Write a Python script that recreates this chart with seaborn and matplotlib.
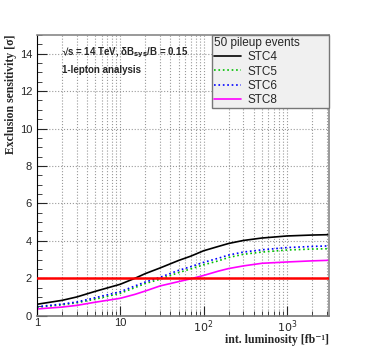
import numpy as np
import pandas as pd
import matplotlib
matplotlib.use("Agg")
import matplotlib.pyplot as plt
from matplotlib.ticker import FixedLocator, LogLocator, NullFormatter, MultipleLocator
import seaborn as sns

# data
lumi = [1, 2, 3, 5, 10, 15, 20, 30, 50, 70, 100, 150, 200, 300, 500, 1000, 2000, 3200]
stc4 = [0.61, 0.82, 1.00, 1.30, 1.68, 2.00, 2.25, 2.55, 2.95, 3.18, 3.47, 3.70, 3.86, 4.02, 4.15, 4.26, 4.31, 4.33]
stc5 = [0.45, 0.58, 0.69, 0.88, 1.20, 1.50, 1.72, 1.95, 2.30, 2.50, 2.72, 2.93, 3.11, 3.28, 3.40, 3.51, 3.56, 3.58]
stc6 = [0.48, 0.62, 0.73, 0.96, 1.28, 1.59, 1.80, 2.05, 2.42, 2.62, 2.85, 3.07, 3.24, 3.40, 3.52, 3.64, 3.70, 3.73]
stc8 = [0.36, 0.46, 0.55, 0.72, 0.93, 1.14, 1.32, 1.59, 1.82, 1.97, 2.15, 2.38, 2.52, 2.66, 2.80, 2.87, 2.93, 2.96]
limit = 2.0

series_names = ["STC4", "STC5", "STC6", "STC8"]
series_vals = [stc4, stc5, stc6, stc8]
colors = ["black", "#00c000", "#0000ff", "#ff00ff"]
styles = ["-", ":", ":", "-"]

sns.set_style("ticks")
plt.rcParams["font.family"] = ["Liberation Sans", "DejaVu Sans"]

fig = plt.figure(figsize=(3.66, 3.51), dpi=100)
ax = fig.add_axes([0.101, 0.1006, 0.798, 0.7997])

for name, vals, c, ls in zip(series_names, series_vals, colors, styles):
    df = pd.DataFrame({"lumi": lumi, "sens": vals})
    sns.lineplot(data=df, x="lumi", y="sens", color=c, linestyle=ls,
                 linewidth=1.2, label=name, ax=ax)

ax.axhline(limit, color="red", linewidth=1.8, zorder=5)

ax.set_xscale("log")
ax.set_xlim(1, 3200)
ax.set_ylim(0, 15)

ax.xaxis.set_major_locator(FixedLocator([1, 10, 100, 1000]))
ax.set_xticklabels(["1", "10", r"$10^{2}$", r"$10^{3}$"])
ax.xaxis.set_minor_locator(LogLocator(base=10, subs=np.arange(2, 10)))
ax.xaxis.set_minor_formatter(NullFormatter())
ax.yaxis.set_major_locator(MultipleLocator(2))
ax.yaxis.set_minor_locator(MultipleLocator(0.5))

ax.grid(which="major", axis="both", color="#999999", linestyle=":", linewidth=0.8)
ax.grid(which="minor", axis="x", color="#999999", linestyle=":", linewidth=0.8)

ax.tick_params(which="both", direction="in", labelsize=8)
ax.tick_params(which="major", length=7)
ax.tick_params(which="minor", length=3.5)
ax.tick_params(axis="x", pad=2)

for s in ["top", "right"]:
    ax.spines[s].set_color("#888888")
    ax.spines[s].set_linewidth(1.2)
ax.spines["left"].set_color("black")
ax.spines["bottom"].set_color("#777777")
ax.spines["bottom"].set_linewidth(1.2)

ax.set_ylabel("Exclusion sensitivity [σ]", fontsize=8.5, fontweight="bold",
              family=["Liberation Serif", "DejaVu Serif"], loc="top")
ax.set_xlabel("int. luminosity [fb⁻¹]", fontsize=8.5, fontweight="bold",
              family=["Liberation Serif", "DejaVu Serif"], loc="right")
ax.yaxis.set_label_coords(-0.068, 1.0)
ax.xaxis.set_label_coords(1.0, -0.066)

ax.text(0.085, 0.935, r"√s = 14 TeV, δB$_{\mathbf{sys}}$/B = 0.15", transform=ax.transAxes,
        fontsize=7, fontweight="bold", ha="left", va="center")
ax.text(0.085, 0.875, "1-lepton analysis", transform=ax.transAxes,
        fontsize=7, fontweight="bold", ha="left", va="center")

leg = ax.legend(title="50 pileup events", loc="upper left",
                bbox_to_anchor=(0.599, 0.74, 0.401, 0.26), mode="expand",
                fontsize=8.5, title_fontsize=8.5, frameon=True, fancybox=False,
                borderpad=0.2, handlelength=2.3, handletextpad=0.5, labelspacing=0.18,
                borderaxespad=0.0, alignment="left")
leg.get_frame().set_facecolor("#f0f0f0")
leg.get_frame().set_edgecolor("#777777")
leg.get_frame().set_alpha(1.0)
leg.get_frame().set_linewidth(1.0)
leg.set_zorder(10)

fig.savefig("out.png", dpi=100)
